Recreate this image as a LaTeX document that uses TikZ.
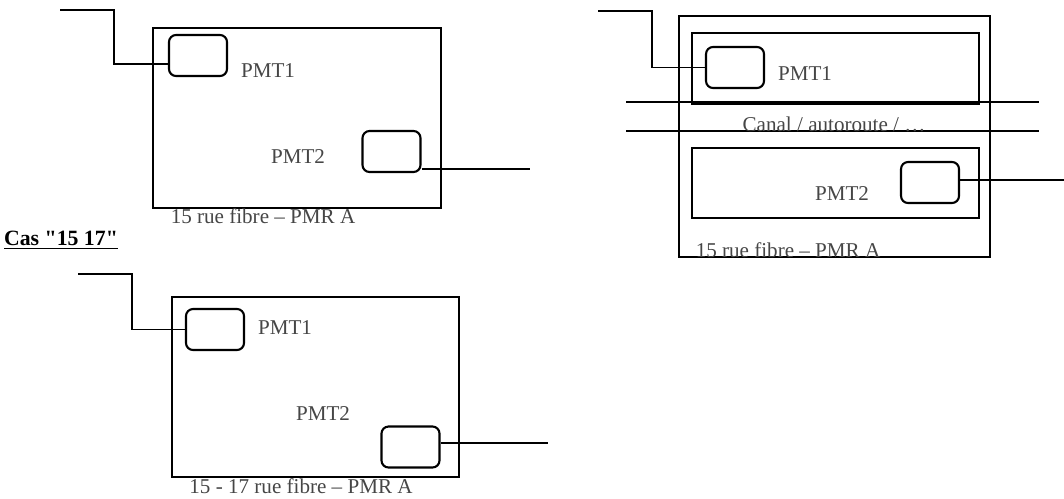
\documentclass[tikz,border=0pt]{standalone}
\usepackage{fontspec}
\setmainfont{Liberation Serif}
\newfontfamily\casfont{Liberation Serif}[Ligatures=TeXOff]
\usetikzlibrary{positioning,calc}
\definecolor{ink}{RGB}{70,70,70}
\tikzset{
  site/.style={draw=black,line width=0.9pt},
  pmt/.style={draw=black,line width=1.2pt,rounded corners=4pt,
    minimum width=11.6mm,minimum height=8.2mm,inner sep=0pt},
  cable/.style={draw=black,line width=1pt},
  lbl/.style={text=ink,font=\fontsize{12}{14}\selectfont,inner sep=0pt},
}
\begin{document}
\begin{tikzpicture}[x=0.02cm,y=-0.02cm]
  \useasboundingbox (0,0) rectangle (1064,498);
  % cas 15 : deux PMT dans un site
  \draw[site] (153,28) rectangle (441,208);
  \node[pmt] (a1) at (198,55.5) {};
  \node[pmt] (a2) at (391.5,151.5) {};
  \node[lbl] (ta1) at (268,71) {PMT1};
  \node[lbl] (ta2) at (298,157) {PMT2};
  \node[lbl] (ta) at (263,216) {15 rue fibre – PMR A};
  \coordinate (ca1) at (60,10);
  \coordinate (ka1) at (114,64);
  \draw[cable] (ca1) -| (ka1) -- (ka1 -| a1.west);
  \coordinate (ca2) at (530,169);
  \draw[cable] (ca2 -| a2.east) -- (ca2);

  % cas 15 17
  \node[font=\casfont\fontsize{12.4}{14}\selectfont\bfseries,inner sep=0pt] (cas) at (61,240) {\underline{Cas "15 17"}};
  \draw[site] (172,297) rectangle (459,477);
  \node[pmt] (b1) at (215,329.5) {};
  \node[pmt] (b2) at (410.5,447) {};
  \node[lbl] (tb1) at (285,328) {PMT1};
  \node[lbl] (tb2) at (323,414) {PMT2};
  \node[lbl] (tb) at (301,486) {15 - 17 rue fibre – PMR A};
  \coordinate (cb1) at (78,274);
  \coordinate (kb1) at (132,329.5);
  \draw[cable] (cb1) -| (kb1) -- (b1.west);
  \coordinate (cb2) at (548,443);
  \draw[cable] (cb2 -| b2.east) -- (cb2);

  % site coupe par un canal
  \draw[site] (679,16) rectangle (990,257);
  \draw[site,line width=1.1pt] (692,33) rectangle (979,104);
  \draw[site,line width=1.1pt] (692,148) rectangle (979,218);
  \foreach \y in {102,131} \draw[cable] (626,\y) -- (1039,\y);
  \node[pmt] (c1) at (735,67.5) {};
  \node[pmt] (c2) at (930,182.5) {};
  \node[lbl] (tc1) at (805,74) {PMT1};
  \node[lbl] (tc2) at (842,194) {PMT2};
  \node[lbl] (canal) at (834,124) {Canal / autoroute / …};
  \node[lbl] (tc) at (788,250) {15 rue fibre – PMR A};
  \coordinate (cc1) at (598,11);
  \coordinate (kc1) at (652,67.5);
  \draw[cable] (cc1) -| (kc1) -- (c1.west);
  \coordinate (cc2) at (1064,180);
  \draw[cable] (cc2 -| c2.east) -- (cc2);
\end{tikzpicture}
\end{document}
